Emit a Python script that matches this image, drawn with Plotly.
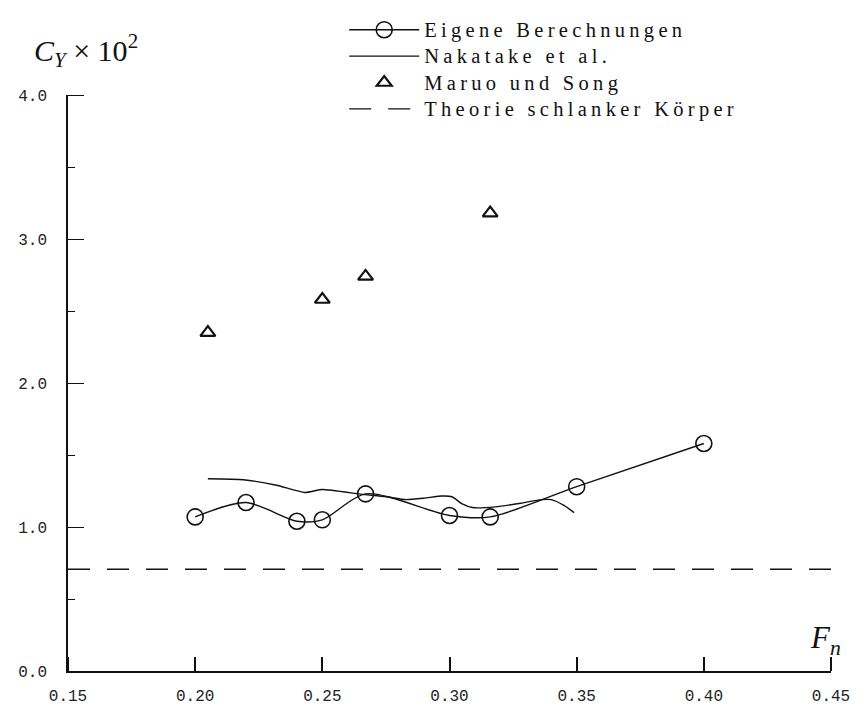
import plotly.graph_objects as go

# Froude number F_n and lateral force coefficient C_Y x 10^2
fn_eigene = [0.200, 0.220, 0.240, 0.250, 0.267, 0.300, 0.316, 0.350, 0.400]
cy_eigene = [1.07, 1.17, 1.04, 1.05, 1.23, 1.08, 1.07, 1.28, 1.58]

fn_nakatake = [0.205, 0.219, 0.232, 0.243, 0.250, 0.265, 0.275, 0.283, 0.290,
               0.297, 0.301, 0.305, 0.309, 0.318, 0.328, 0.336, 0.340, 0.345, 0.349]
cy_nakatake = [1.335, 1.328, 1.29, 1.24, 1.26, 1.228, 1.21, 1.19, 1.20,
               1.215, 1.21, 1.16, 1.135, 1.14, 1.165, 1.19, 1.19, 1.15, 1.10]

fn_maruo = [0.205, 0.250, 0.267, 0.316]
cy_maruo = [2.35, 2.58, 2.74, 3.18]

fn_slender = [0.15, 0.45]
cy_slender = [0.707, 0.707]

x_ticks = [0.15, 0.20, 0.25, 0.30, 0.35, 0.40, 0.45]
x_tick_labels = ["0.15", "0.20", "0.25", "0.30", "0.35", "0.40", "0.45"]
y_ticks = [0.0, 1.0, 2.0, 3.0, 4.0]
y_tick_labels = ["0.0", "1.0", "2.0", "3.0", "4.0"]
y_half_ticks = [0.5, 1.5, 2.5, 3.5]

series_names = ["Eigene Berechnungen", "Nakatake et al.",
                "Maruo und Song", "Theorie schlanker Körper"]

X_RANGE = [0.15, 0.45]
Y_RANGE = [0, 4]

INK = "#111111"
SERIF = "Liberation Serif, Times New Roman, serif"
MONO = "Liberation Mono, DejaVu Sans Mono, monospace"


def legend_label(s):
    # wide, loosely set serif text for the key
    return '<span style="font-size:20.5px;letter-spacing:4.3px">' + s + "</span>"


fig = go.Figure()

fig.add_trace(go.Scatter(
    x=fn_eigene, y=cy_eigene, name=legend_label(series_names[0]),
    mode="lines+markers",
    line=dict(color=INK, width=1.4, shape="spline", smoothing=0.8),
    marker=dict(symbol="circle-open", size=16, color=INK, line=dict(width=1.6, color=INK)),
))

fig.add_trace(go.Scatter(
    x=fn_nakatake, y=cy_nakatake, name=legend_label(series_names[1]),
    mode="lines",
    line=dict(color=INK, width=1.4, shape="spline", smoothing=0.5),
))

fig.add_trace(go.Scatter(
    x=fn_maruo, y=cy_maruo, name=legend_label(series_names[2]),
    mode="markers",
    marker=dict(symbol="triangle-up-open", size=13, color=INK, line=dict(width=2.2, color=INK)),
))

# the slender-body line sits on the overlay axes that carry the long tick marks
fig.add_trace(go.Scatter(
    x=fn_slender, y=cy_slender, name=legend_label(series_names[3]),
    mode="lines", xaxis="x2", yaxis="y2",
    line=dict(color=INK, width=1.4, dash="22px,17px"),
))

fig.update_layout(
    width=866, height=718,
    margin=dict(l=68, r=35, t=87, b=31),
    paper_bgcolor="white", plot_bgcolor="white",
    showlegend=True,
    legend=dict(
        x=0.362, y=1.145, xanchor="left", yanchor="top",
        bgcolor="rgba(0,0,0,0)",
        font=dict(family=SERIF, size=18, color=INK),
        itemwidth=70,
        tracegroupgap=0,
    ),
    # axes with lines and tick labels; short half-step ticks on y
    xaxis=dict(
        range=X_RANGE, showgrid=False, zeroline=False,
        showline=True, linecolor=INK, linewidth=1.5,
        tickmode="array", tickvals=x_ticks, ticktext=x_tick_labels,
        ticks="", tickfont=dict(family=MONO, size=16, color="#222222"),
        ticklabelstandoff=9,
    ),
    yaxis=dict(
        range=Y_RANGE, showgrid=False, zeroline=False,
        showline=True, linecolor=INK, linewidth=1.5,
        tickmode="array", tickvals=y_ticks, ticktext=y_tick_labels,
        ticks="", tickfont=dict(family=MONO, size=16, color="#222222"),
        ticklabelstandoff=16,
        minor=dict(tickvals=y_half_ticks, ticks="inside", ticklen=7,
                   tickwidth=1.3, tickcolor=INK, showgrid=False),
    ),
    # overlay axes drawing the long inward tick marks at the labelled values
    xaxis2=dict(
        range=X_RANGE, overlaying="x", anchor="y2", side="bottom",
        showgrid=False, zeroline=False, showline=False,
        tickmode="array", tickvals=[], ticks="", showticklabels=False,
        minor=dict(tickvals=x_ticks, ticks="inside", ticklen=14,
                   tickwidth=1.5, tickcolor=INK, showgrid=False),
    ),
    yaxis2=dict(
        range=Y_RANGE, overlaying="y", anchor="x2", side="left",
        showgrid=False, zeroline=False, showline=False,
        tickmode="array", tickvals=[], ticks="", showticklabels=False,
        minor=dict(tickvals=y_ticks, ticks="inside", ticklen=16,
                   tickwidth=1.3, tickcolor=INK, showgrid=False),
    ),
)

# axis labels
fig.add_annotation(
    text="<i>C</i><sub><i>Y</i></sub> × 10<sup>2</sup>",
    xref="paper", yref="paper", x=-0.047, y=1.078,
    xanchor="left", yanchor="middle", showarrow=False,
    font=dict(family=SERIF, size=30, color=INK),
)
fig.add_annotation(
    text="<i>F</i><sub><i>n</i></sub>",
    xref="paper", yref="paper", x=0.993, y=0.053,
    xanchor="center", yanchor="middle", showarrow=False,
    font=dict(family=SERIF, size=31, color=INK),
)

fig.write_html("out.html")
